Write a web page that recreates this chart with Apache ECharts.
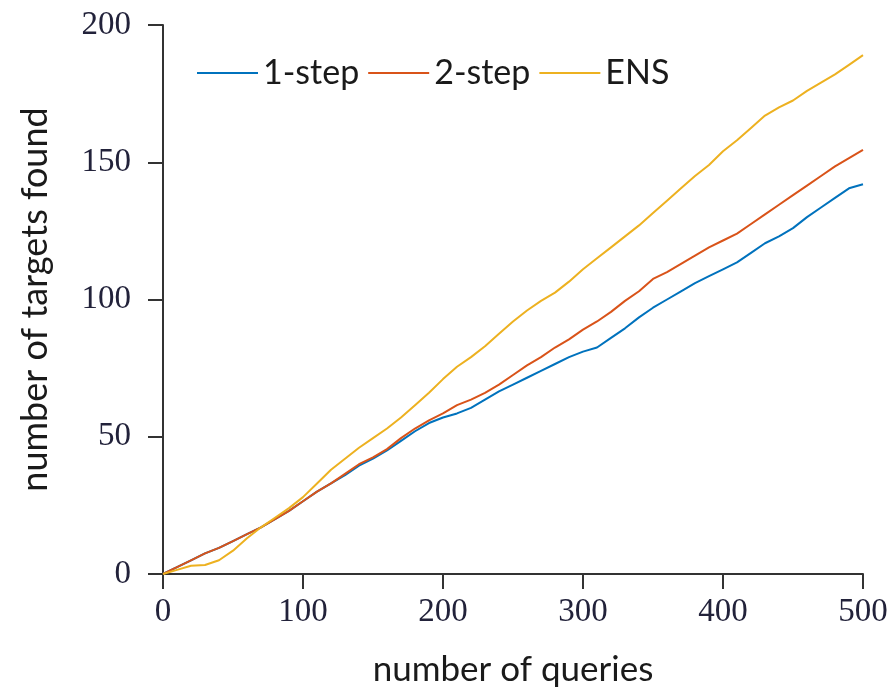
<!DOCTYPE html>
<html><head><meta charset="utf-8">
<script src="https://cdn.jsdelivr.net/npm/echarts@6/dist/echarts.min.js"></script>
<style>html,body{margin:0;padding:0;background:#fff}#c{width:894px;height:692px}</style>
</head><body><div id="c"></div>
<script>
var queries = [0,10,20,30,40,50,60,70,80,90,100,110,120,130,140,150,160,170,180,190,200,210,220,230,240,250,260,270,280,290,300,310,320,330,340,350,360,370,380,390,400,410,420,430,440,450,460,470,480,490,500];
var oneStep = [0,2.5,5,7.5,9.5,12,14.5,17,20,23,26.5,30,33,36,39.5,42,45,48.5,52,55,57,58.5,60.5,63.5,66.5,69,71.5,74,76.5,79,81,82.5,86,89.5,93.5,97,100,103,106,108.5,111,113.5,117,120.5,123,126,130,133.5,137,140.5,142];
var twoStep = [0,2.5,5,7.5,9.5,12,14.5,17,20,23,26.5,30,33,36.5,40,42.5,45.5,49.5,53,56,58.5,61.5,63.5,66,69,72.5,76,79,82.5,85.5,89,92,95.5,99.5,103,107.5,110,113,116,119,121.5,124,127.5,131,134.5,138,141.5,145,148.5,151.5,154.5];
var ens = [0,1.5,3,3.3,5,8.5,13,17,20.5,24,28,33,38,42,46,49.5,53,57,61.5,66,71,75.5,79,83,87.5,92,96,99.5,102.5,106.5,111,115,119,123,127,131.5,136,140.5,145,149,154,158,162.5,167,170,172.5,176,179,182,185.5,189];
var seriesNames = ['1-step','2-step','ENS'];
var xTicks = [0,100,200,300,400,500];
var yTicks = [0,50,100,150,200];

function pairs(v){return queries.map(function(q,i){return [q,v[i]];});}
var colors = ['#0072BD','#D95319','#EDB120'];
var chart = echarts.init(document.getElementById('c'));
var axisCommon = {
  axisLine:{show:true,lineStyle:{color:'#333',width:2}},
  axisTick:{show:true,inside:false,length:15,lineStyle:{color:'#333',width:2}},
  splitLine:{show:false},
  nameLocation:'middle'
};
chart.setOption({
  animation:false,
  color:colors,
  grid:{left:163,right:31,top:25,bottom:117,containLabel:false},
  legend:{
    left:192,top:51,itemWidth:61,itemHeight:20,itemGap:9,
    icon:'path://M0,9L61,9L61,11L0,11Z',
    textStyle:{fontFamily:'Lato',fontSize:34,color:'#1a1a1a'},
    data:seriesNames
  },
  xAxis:Object.assign({},axisCommon,{
    type:'value',min:0,max:500,interval:100,name:'number of queries',nameGap:78,
    nameTextStyle:{fontFamily:'Lato',fontSize:35,color:'#1a1a1a'},
    axisLabel:{margin:22,fontFamily:'Liberation Serif',fontSize:33,color:'#22223a',
      formatter:function(v){return xTicks.indexOf(v)>=0?String(v):'';}}
  }),
  yAxis:Object.assign({},axisCommon,{
    type:'value',min:0,max:200,interval:50,name:'number of targets found',nameGap:110,
    nameTextStyle:{fontFamily:'Lato',fontSize:36,color:'#1a1a1a'},
    axisLabel:{margin:32,fontFamily:'Liberation Serif',fontSize:33,color:'#22223a',
      formatter:function(v){return yTicks.indexOf(v)>=0?String(v):'';}}
  }),
  series:[
    {name:seriesNames[0],type:'line',data:pairs(oneStep),showSymbol:false,lineStyle:{width:2,color:colors[0]},z:3},
    {name:seriesNames[1],type:'line',data:pairs(twoStep),showSymbol:false,lineStyle:{width:2,color:colors[1]},z:4},
    {name:seriesNames[2],type:'line',data:pairs(ens),showSymbol:false,lineStyle:{width:2,color:colors[2]},z:5}
  ]
});
</script></body></html>
